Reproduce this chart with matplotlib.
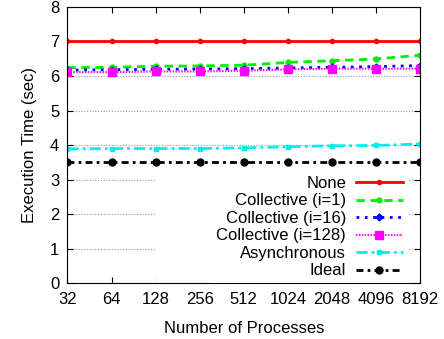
import numpy as np
import matplotlib
matplotlib.use('Agg')
import matplotlib.pyplot as plt
from matplotlib.patches import Rectangle
from matplotlib.transforms import blended_transform_factory

# DATA
procs = [32, 64, 128, 256, 512, 1024, 2048, 4096, 8192]
none = [7.0, 7.0, 7.0, 7.0, 7.0, 7.0, 7.0, 7.0, 7.0]
coll_1 = [6.24, 6.25, 6.28, 6.29, 6.31, 6.39, 6.44, 6.49, 6.60]
coll_16 = [6.17, 6.18, 6.19, 6.20, 6.21, 6.23, 6.25, 6.27, 6.30]
coll_128 = [6.11, 6.11, 6.13, 6.13, 6.15, 6.19, 6.21, 6.21, 6.21]
async_ = [3.89, 3.90, 3.90, 3.90, 3.92, 3.95, 3.98, 3.99, 4.03]
ideal = [3.5, 3.5, 3.5, 3.5, 3.5, 3.5, 3.5, 3.5, 3.5]

plt.rcParams['font.family'] = ['Liberation Sans', 'DejaVu Sans']
plt.rcParams['font.size'] = 12

fig = plt.figure(figsize=(4.44, 3.39), dpi=100)
ax = fig.add_axes([0.152, 0.164, 0.794, 0.816])

ax.plot(procs, none, color='#ff0000', lw=2, marker='o', ms=3, label='None')
ax.plot(procs, coll_1, color='#00ee00', lw=2, ls=(0, (3, 2)), marker='o', ms=3.5,
        label='Collective (i=1)')
ax.plot(procs, coll_16, color='#0000ff', lw=2, ls=(0, (1, 2)), marker='D', ms=3.5,
        label='Collective (i=16)')
ax.plot(procs, coll_128, color='#ff00ff', lw=1.5, ls=(0, (0.7, 0.7)), marker='s', ms=6,
        label='Collective (i=128)')
ax.plot(procs, async_, color='#00eeee', lw=2, ls=(0, (4, 1.5, 1, 1.5)), marker='s', ms=3,
        label='Asynchronous')
ax.plot(procs, ideal, color='black', lw=2, ls=(0, (2.5, 1.5, 1, 1.5)), marker='o', ms=5,
        label='Ideal')

ax.set_xscale('log', base=2)
ax.set_xlim(32, 8192)
ax.set_ylim(0, 8)
ax.set_xticks(procs)
ax.set_xticklabels([str(p) for p in procs])
ax.minorticks_off()
ax.set_yticks(range(0, 9))
ax.tick_params(direction='in', length=4, top=True, right=True, pad=6)
ax.yaxis.grid(True, color='#999999', ls=(0, (1, 1.5)), lw=0.8)
ax.set_axisbelow(True)

# white key box, as wide as gnuplot draws it
trans = blended_transform_factory(ax.transAxes, ax.transData)
ax.add_patch(Rectangle((0.25, 0.02), 0.72, 3.25, transform=trans,
                       facecolor='white', edgecolor='none', zorder=1))

ax.set_xlabel('Number of Processes', labelpad=10)
ax.set_ylabel('Execution Time (sec)', labelpad=9)

leg = ax.legend(loc='lower right', bbox_to_anchor=(0.965, 0.0), markerfirst=False,
                frameon=True, fancybox=False, framealpha=1, edgecolor='none',
                handlelength=2.8, handletextpad=0.6, labelspacing=0.15,
                borderpad=0.3, borderaxespad=0)
for t in leg.get_texts():
    t.set_ha('right')
leg._legend_box.align = 'right'

fig.savefig('out.png', dpi=100)
